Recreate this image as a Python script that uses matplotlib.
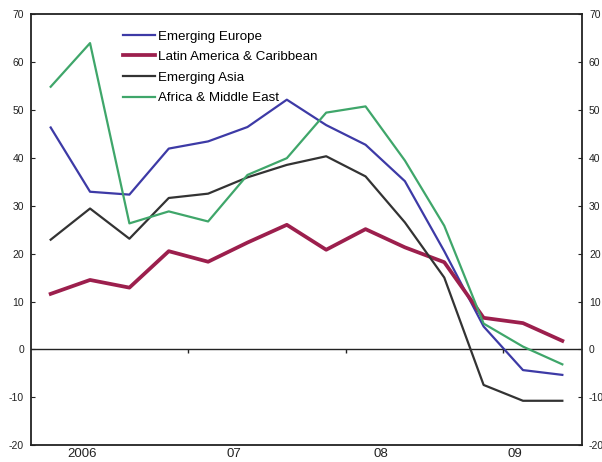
import numpy as np
import matplotlib
matplotlib.use("Agg")
import matplotlib.pyplot as plt

plt.rcParams["font.family"] = ["Liberation Sans", "DejaVu Sans"]
plt.rcParams["axes.unicode_minus"] = False

# quarterly data, 2006Q1 - 2009Q2
quarters = np.arange(14)
europe = [46.3, 32.9, 32.3, 41.9, 43.4, 46.4, 52.1, 46.8, 42.7, 35.1, 20.5, 4.8, -4.3, -5.3]
latam = [11.6, 14.5, 12.9, 20.5, 18.3, 22.3, 26.0, 20.8, 25.1, 21.3, 18.2, 6.6, 5.5, 1.8]
asia = [22.9, 29.4, 23.1, 31.6, 32.5, 35.9, 38.5, 40.3, 36.1, 26.5, 15.0, -7.4, -10.7, -10.7]
africa_me = [54.8, 63.9, 26.3, 28.8, 26.7, 36.4, 39.9, 49.4, 50.7, 39.4, 25.8, 5.4, 0.6, -3.1]

year_labels = ["2006", "07", "08", "09"]
label_pos = [0.8, 4.65, 8.4, 11.8]
year_bounds = [3.5, 7.5, 11.5]

fig = plt.figure(figsize=(6.02, 4.62), dpi=100)
ax = fig.add_axes([0.0515, 0.036, 0.9153, 0.934])

ax.plot(quarters, europe, color="#3d3aa6", lw=1.6, label="Emerging Europe")
ax.plot(quarters, latam, color="#9c1f4d", lw=2.7, label="Latin America & Caribbean")
ax.plot(quarters, asia, color="#333333", lw=1.6, label="Emerging Asia")
ax.plot(quarters, africa_me, color="#3fa66a", lw=1.6, label="Africa & Middle East")

ax.axhline(0, color="#222222", lw=1.0, zorder=1)
ax.vlines(year_bounds, -0.8, 0, color="#222222", lw=1.0)

ax.set_xlim(-0.5, 13.5)
ax.set_ylim(-20, 70)
ax.set_yticks(range(-20, 71, 10))
ax.set_xticks(label_pos)
ax.set_xticklabels(year_labels, fontsize=9.5, color="#222222")
ax.tick_params(axis="x", length=0, pad=2)
ax.tick_params(axis="y", direction="in", length=3, labelsize=7.5, colors="#222222",
               left=True, right=True, labelleft=True, labelright=True, pad=5)

for s in ax.spines.values():
    s.set_linewidth(1.3)
    s.set_color("#222222")

ax.legend(loc="upper left", bbox_to_anchor=(0.145, 0.99), frameon=False,
          fontsize=9.6, handlelength=2.4, handletextpad=0.25, labelspacing=0.62)

fig.savefig("out.png", dpi=100)
